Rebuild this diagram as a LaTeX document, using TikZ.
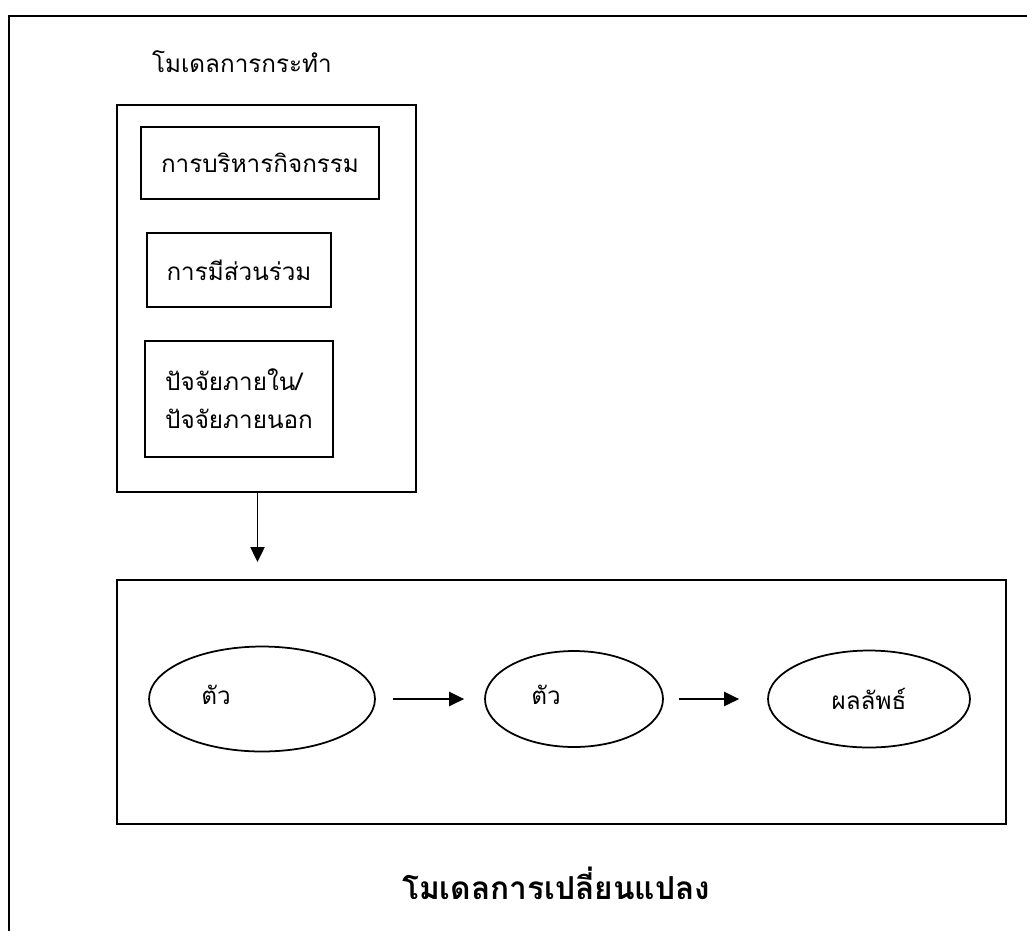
\documentclass[tikz,border=0pt]{standalone}
\usepackage{fontspec}
\newfontfamily\thaifont[Script=Thai]{Loma}
\usetikzlibrary{arrows.meta,shapes.geometric}

\begin{document}
\begin{tikzpicture}[
  x=0.02cm, y=-0.02cm,
  >={Triangle[length=8.5pt,width=8pt]},
  font=\thaifont\fontsize{13.8}{19}\selectfont,
  frame/.style={line width=1.5pt},
  box/.style={draw, line width=1.15pt, inner sep=0pt},
  oval/.style={draw, ellipse, line width=1pt, inner sep=0pt},
  link/.style={->, line width=1.1pt}
  ]
\useasboundingbox (0,0) rectangle (1027,931);
%\draw [ultra thin, lightgray] (0,0) grid[step=50] (1027,931);
\draw [frame] (9,931) -- (9,16) -- (1027,16);
\node [anchor=west] (acttitle) at (146,62) {โมเดลการกระทำ};
\node [box, minimum width=5.98cm, minimum height=7.74cm] (act) at (266.5,298.5) {};
\node [box, minimum width=4.78cm, minimum height=1.44cm] (admin) at (260,163) {การบริหารกิจกรรม};
\node [box, minimum width=3.68cm, minimum height=1.48cm] (partic) at (239,270) {การมีส่วนร่วม};
\node [box, minimum width=3.76cm, minimum height=2.32cm, align=left,
  font=\thaifont\fontsize{13.8}{21.5}\selectfont] (factors) at (239,399)
  {ปัจจัยภายใน/\\ปัจจัยภายนอก};
\node [box, minimum width=17.78cm, minimum height=4.88cm] (change) at (561.5,702) {};
\node [oval, minimum width=4.52cm, minimum height=2.1cm] (var1) at (262,699) {};
\node (var1text) at (216,695) {ตัว};
\node [oval, minimum width=3.56cm, minimum height=1.92cm] (var2) at (574,699) {};
\node (var2text) at (546,695) {ตัว};
\node [oval, minimum width=4.04cm, minimum height=1.94cm] (result) at (869,699) {ผลลัพธ์};
\node [font=\thaifont\bfseries\fontsize{18}{22}\selectfont] (chtitle) at (556,883) {โมเดลการเปลี่ยนแปลง};
\draw [link, shorten >=0.34cm] ([xshift=-0.18cm]act.south) -- ([xshift=-0.18cm]act.south |- change.north);
\draw [link, shorten <=0.34cm, shorten >=0.4cm] (var1.east) -- (var2.west);
\draw [link, shorten <=0.3cm, shorten >=0.56cm] (var2.east) -- (result.west);
\end{tikzpicture}
\end{document}
